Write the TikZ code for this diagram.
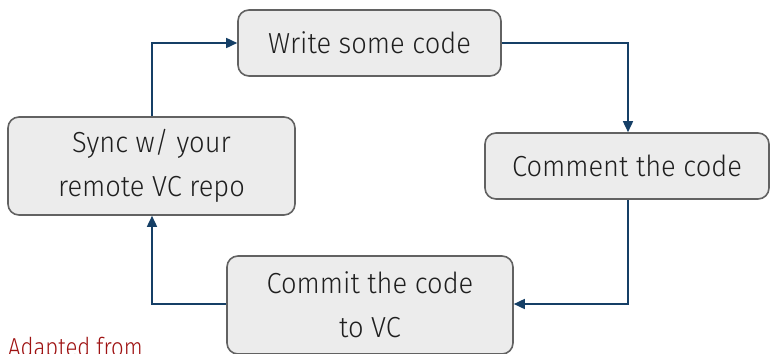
\documentclass[tikz,border=0pt]{standalone}
\usepackage{fontspec}
\setmainfont{Fira Sans}[UprightFont=* Light, FakeStretch=0.94]
\newfontfamily\notefont{Fira Sans}[UprightFont=* Light, FakeStretch=0.85]
\usetikzlibrary{arrows.meta}
\definecolor{boxfill}{HTML}{ECECEC}
\definecolor{boxline}{HTML}{626262}
\definecolor{flow}{HTML}{153F66}
\definecolor{note}{HTML}{9E1212}
\tikzset{
  stage/.style={draw=boxline, fill=boxfill, line width=1.6pt, rounded corners=11pt,
    text=black!88, font=\fontsize{29}{44}\selectfont, align=center, inner sep=0pt},
  flowline/.style={draw=flow, line width=1.6pt, -{Triangle[length=11pt,width=10pt]}},
}
\begin{document}
\begin{tikzpicture}[x=1pt,y=-1pt]
  \useasboundingbox (0,0) rectangle (770,353);
  % stages of the cycle
  \node[stage, minimum width=263pt, minimum height=66pt] (write) at (369.5,43) {Write some code};
  \node[stage, minimum width=284pt, minimum height=66pt] (comment) at (627,166) {Comment the code};
  \node[stage, minimum width=286pt, minimum height=98pt] (commit) at (370,305) {Commit the code\\to VC};
  \node[stage, minimum width=287pt, minimum height=98pt] (sync) at (151.5,166) {Sync w/ your\\remote VC repo};
  % connectors between stages
  \coordinate (c1) at (628,43);
  \coordinate (c2) at (628,304);
  \coordinate (c3) at (152,304);
  \coordinate (c4) at (152,43);
  \draw[flowline] (write.east) -- (c1) -- (comment.north -| c1);
  \draw[flowline] (comment.south -| c2) -- (c2) -- (commit.east |- c2);
  \draw[flowline] (commit.west |- c3) -- (c3) -- (sync.south -| c3);
  \draw[flowline] (sync.north -| c4) -- (c4) -- (write.west);
  % attribution
  \node[anchor=base west, text=note, font=\notefont\fontsize{26}{30}\selectfont, inner sep=0pt] (src) at (8,356) {Adapted from};
\end{tikzpicture}
\end{document}
